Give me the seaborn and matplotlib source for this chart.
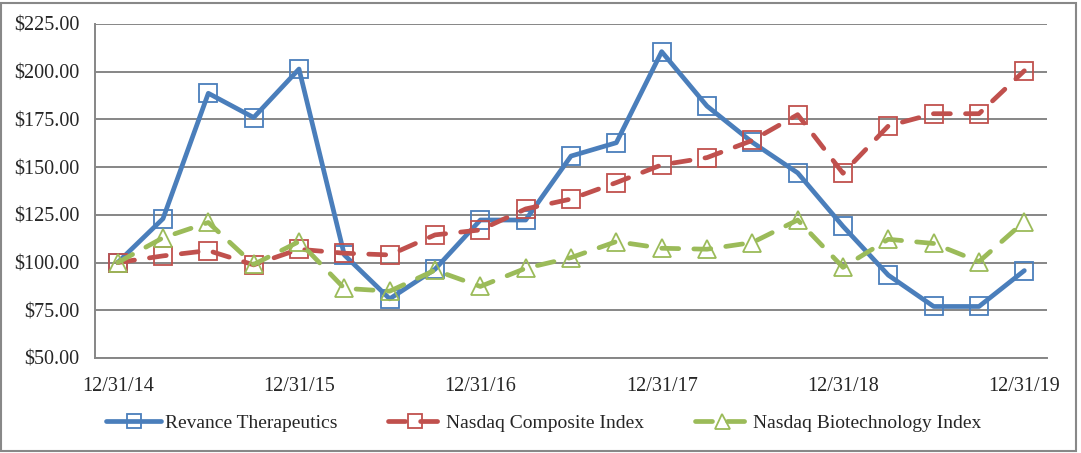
import matplotlib
matplotlib.use("Agg")
import matplotlib.pyplot as plt
import seaborn as sns
import numpy as np
import pandas as pd
from matplotlib.ticker import FuncFormatter
from matplotlib.patches import Rectangle

quarters = ["12/31/14", "3/31/15", "6/30/15", "9/30/15", "12/31/15",
            "3/31/16", "6/30/16", "9/30/16", "12/31/16",
            "3/31/17", "6/30/17", "9/30/17", "12/31/17",
            "3/31/18", "6/30/18", "9/30/18", "12/31/18",
            "3/31/19", "6/30/19", "9/30/19", "12/31/19"]
tick_labels = ["12/31/14", "12/31/15", "12/31/16", "12/31/17", "12/31/18", "12/31/19"]

revance = [100, 123, 188.7, 176, 201.4, 104, 81, 96.5, 122.3, 122.3,
           155.8, 162.8, 210.5, 182, 163, 147, 119, 93.4, 77, 77, 95.8]
nasdaq_comp = [100, 103.5, 106.3, 98.8, 107, 104.9, 104, 114.5, 117.1, 128.1,
               133.3, 141.9, 151.2, 155, 164, 177.5, 146.8, 171.6, 178, 178, 200.5]
nasdaq_bio = [100, 113, 121, 99, 111, 86.5, 85, 96, 87.5, 97,
              102.6, 111, 107.5, 107, 110.5, 122.3, 97.5, 112.2, 110, 100.5, 121.5]

series_names = ["Revance Therapeutics", "Nasdaq Composite Index", "Nasdaq Biotechnology Index"]
colors = ["#4A7EBB", "#C0504D", "#9BBB59"]
markers = ["s", "s", "^"]

sns.set_style("white")
plt.rcParams['font.family'] = ['Liberation Serif', 'DejaVu Serif']

fig = plt.figure(figsize=(10.81, 4.53), dpi=100)
ax = fig.add_axes([95/1081, 1-358/453, (1047-95)/1081, (358-24)/453])

idx = np.arange(len(quarters))
all_vals = [revance, nasdaq_comp, nasdaq_bio]
for name, vals, c, m in zip(series_names, all_vals, colors, markers):
    kw = dict(linewidth=3.4, marker=m, markersize=12.5 if m == "s" else 13.5,
              markerfacecolor="none", markeredgecolor=c, markeredgewidth=1.3,
              color=c, label=name, ax=ax)
    if name != series_names[0]:
        kw["linestyle"] = (0, (3.6, 3.2))
        kw["dash_capstyle"] = "round"
    else:
        kw["solid_capstyle"] = "round"
        kw["solid_joinstyle"] = "round"
    sns.lineplot(x=idx, y=vals, **kw)

ax.set_xlim(-0.5, len(quarters) - 0.5)
ax.set_ylim(50, 225)
ax.set_yticks(np.arange(50, 226, 25))
ax.yaxis.set_major_formatter(FuncFormatter(lambda v, p: f"${v:,.2f}"))

major_pos = [quarters.index(t) for t in tick_labels]
ax.set_xticks(major_pos)
ax.set_xticklabels(tick_labels)
ax.set_xticks([p - 0.5 for p in major_pos], minor=True)
ax.tick_params(axis="x", which="major", length=0, pad=14, labelsize=14.5)
ax.tick_params(axis="x", which="minor", length=6, width=1.3, color="#868686", direction="out")
ax.tick_params(axis="y", which="major", length=6, width=1.3, color="#868686", direction="out",
               labelsize=14.5, pad=5)

ax.grid(axis="y", color="#868686", linewidth=1.4)
ax.grid(axis="x", visible=False)
ax.set_axisbelow(True)
for s in ["top", "right"]:
    ax.spines[s].set_visible(False)
for s in ["left", "bottom"]:
    ax.spines[s].set_color("#868686")
    ax.spines[s].set_linewidth(1.4)
ax.set_xlabel("")
ax.set_ylabel("")

if ax.get_legend():
    ax.get_legend().remove()
handles, labels = ax.get_legend_handles_labels()
leg = fig.legend(handles, labels, loc="center", bbox_to_anchor=(0.503, 1 - 423/453),
                 ncol=3, frameon=False, fontsize=14, handlelength=2.8,
                 columnspacing=2.6, handletextpad=0.2, markerscale=0.8)

fig.patches.append(Rectangle((1/1081, 2/453), 1075/1081, 448/453, transform=fig.transFigure,
                             fill=False, edgecolor="#888888", linewidth=1.5))

fig.savefig("out.png", dpi=100)
